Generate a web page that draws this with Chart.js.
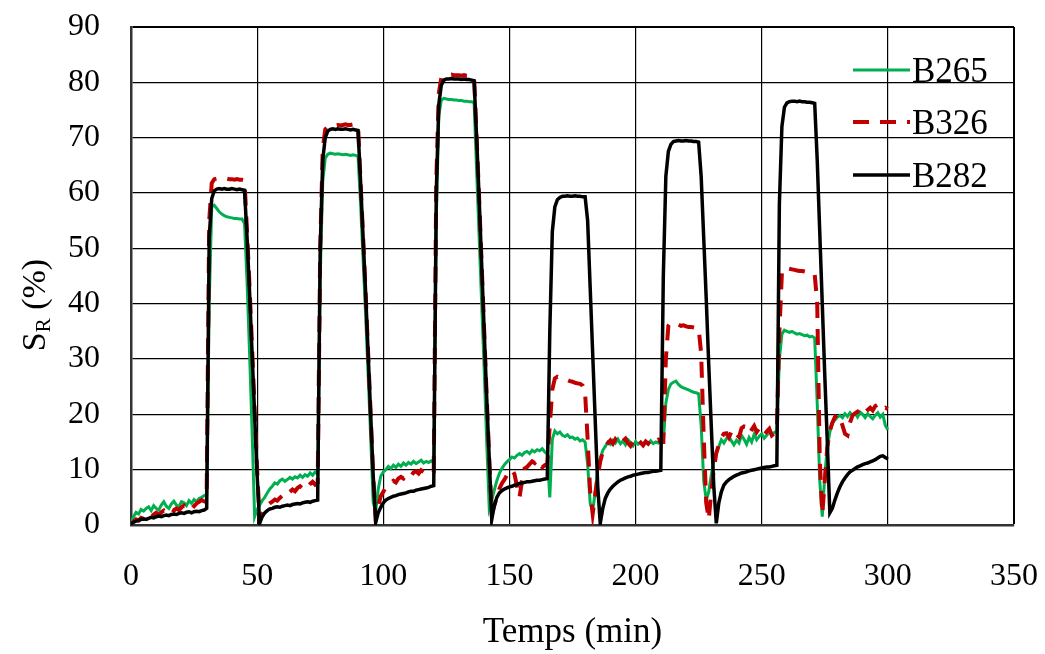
<!DOCTYPE html>
<html>
<head>
<meta charset="utf-8">
<script src="https://cdn.jsdelivr.net/npm/chart.js@4.4.1/dist/chart.umd.min.js"></script>
<style>
    body { margin: 0; background: #fff; }
    #wrap { width: 1045px; height: 654px; position: relative; }
</style>
</head>
<body>
<div id="wrap"><canvas id="chart_sr"></canvas></div>
<script>
// temps (min), one point per minute
var temps = [
    0, 1, 2, 3, 4, 5, 6, 7, 8, 9,
    10, 11, 12, 13, 14, 15, 16, 17, 18, 19,
    20, 21, 22, 23, 24, 25, 26, 27, 28, 29,
    30, 31, 32, 33, 34, 35, 36, 37, 38, 39,
    40, 41, 42, 43, 44, 45, 46, 47, 48, 49,
    50, 51, 52, 53, 54, 55, 56, 57, 58, 59,
    60, 61, 62, 63, 64, 65, 66, 67, 68, 69,
    70, 71, 72, 73, 74, 75, 76, 77, 78, 79,
    80, 81, 82, 83, 84, 85, 86, 87, 88, 89,
    90, 91, 92, 93, 94, 95, 96, 97, 98, 99,
    100, 101, 102, 103, 104, 105, 106, 107, 108, 109,
    110, 111, 112, 113, 114, 115, 116, 117, 118, 119,
    120, 121, 122, 123, 124, 125, 126, 127, 128, 129,
    130, 131, 132, 133, 134, 135, 136, 137, 138, 139,
    140, 141, 142, 143, 144, 145, 146, 147, 148, 149,
    150, 151, 152, 153, 154, 155, 156, 157, 158, 159,
    160, 161, 162, 163, 164, 165, 166, 167, 168, 169,
    170, 171, 172, 173, 174, 175, 176, 177, 178, 179,
    180, 181, 182, 183, 184, 185, 186, 187, 188, 189,
    190, 191, 192, 193, 194, 195, 196, 197, 198, 199,
    200, 201, 202, 203, 204, 205, 206, 207, 208, 209,
    210, 211, 212, 213, 214, 215, 216, 217, 218, 219,
    220, 221, 222, 223, 224, 225, 226, 227, 228, 229,
    230, 231, 232, 233, 234, 235, 236, 237, 238, 239,
    240, 241, 242, 243, 244, 245, 246, 247, 248, 249,
    250, 251, 252, 253, 254, 255, 256, 257, 258, 259,
    260, 261, 262, 263, 264, 265, 266, 267, 268, 269,
    270, 271, 272, 273, 274, 275, 276, 277, 278, 279,
    280, 281, 282, 283, 284, 285, 286, 287, 288, 289,
    290, 291, 292, 293, 294, 295, 296, 297, 298, 299,
    300
];

var sr_b265 = [
    0.5, 1.5, 2.3, 2.0, 2.8, 2.5, 3.0, 3.3, 2.6, 3.5,
    3.0, 2.7, 3.6, 4.2, 3.4, 3.0, 3.8, 4.3, 3.6, 3.3,
    4.2, 4.0, 3.5, 4.4, 3.9, 4.6, 4.2, 4.8, 5.0, 5.3,
    5.5, 40, 57.5, 57.8, 57.2, 56.6, 56.2, 55.9, 55.7, 55.6,
    55.5, 55.4, 55.4, 55.3, 55.3, 54.5, 44, 31, 17, 1.5,
    2.8, 3.6, 4.4, 5.0, 5.8, 6.5, 7.0, 7.6, 7.4, 8.0,
    8.3, 7.9, 8.2, 8.6, 8.3, 8.7, 8.5, 9.0, 8.6, 9.1,
    8.8, 9.4, 9.0, 9.6, 9.2, 45, 62, 66.3, 67.0, 67.2,
    67.1, 67.0, 67.1, 67.0, 66.9, 67.0, 66.9, 66.8, 66.9, 66.8,
    66.6, 58, 48, 38, 27, 16, 4, 2.5, 6.5, 8.8,
    9.6, 10.0, 10.6, 10.2, 10.8, 10.4, 11.0, 10.6, 11.2, 10.8,
    11.3, 11.0, 11.5, 11.1, 11.4, 11.7, 11.2, 11.5, 11.3, 11.6,
    11.2, 55, 74, 76.8, 77.1, 77.0, 76.9, 76.9, 76.8, 76.8,
    76.7, 76.7, 76.6, 76.6, 76.5, 76.5, 76.3, 64, 52, 40,
    28, 15, 3.0, 4.5, 6.3, 8.0, 9.3, 10.2, 10.9, 11.4,
    11.8, 12.3, 12.1, 12.6, 12.9, 12.6, 13.1, 13.3, 12.9, 13.5,
    13.2, 13.6, 13.4, 13.8, 13.2, 12.8, 5.0, 15.5, 17.0, 16.5,
    16.8, 16.2, 16.0, 16.3, 15.8, 15.9, 15.5, 15.7, 15.2, 15.4,
    15.0, 11, 4, 2.5, 6, 10, 12, 13.5, 14.2, 15.0,
    14.6, 15.3, 14.8, 15.5, 14.7, 15.2, 14.5, 15.4, 14.9, 14.3,
    15.1, 14.6, 15.0, 14.4, 14.9, 14.6, 15.2, 14.7, 15.0, 14.8,
    15.1, 15, 22, 24.5, 25.5, 25.8, 26.0, 25.4, 25.0, 24.8,
    24.6, 24.4, 24.2, 24.0, 23.9, 23.7, 18, 8, 4.5, 6,
    9, 11.5, 13.0, 14.2, 15.4, 14.8, 15.6, 16.0, 15.2, 14.5,
    15.3, 14.8, 16.2, 15.5, 14.6, 15.8, 15.0, 16.4, 15.4, 16.0,
    16.5, 15.7, 16.2, 16.8, 16.5, 16.7, 17.0, 30, 34.5, 35.2,
    35.0, 34.8, 35.0, 34.7, 34.5, 34.6, 34.4, 34.2, 34.3, 34.0,
    34.1, 33.8, 22, 8, 1.5, 9, 14, 16.8, 18.4, 19.0,
    19.5, 19.8, 19.4, 20.1, 19.6, 20.3, 19.8, 20.2, 19.5, 20.4,
    20.0, 19.4, 20.1, 19.6, 19.2, 19.8, 20.3, 19.5, 20.0, 18.0,
    17.2
];

var sr_b326 = [
    0.2, 0.6, 1.0, 0.8, 1.3, 1.1, 1.5, 1.8, 1.4, 1.9,
    2.2, 1.8, 2.3, 2.6, 2.1, 2.5, 2.9, 2.6, 3.0, 2.7,
    3.2, 3.5, 3.0, 3.4, 3.8, 3.4, 3.9, 4.2, 4.5, 4.3,
    6, 55, 61.8, 62.5, 62.6, 62.6, 62.5, 62.6, 62.6, 62.5,
    62.5, 62.4, 62.5, 62.4, 62.4, 62.3, 53, 43, 32, 21,
    10, 0.8, 2.0, 2.8, 3.5, 3.9, 4.2, 4.6, 4.4, 4.9,
    5.3, 5.0, 5.6, 6.0, 6.4, 6.1, 6.7, 7.0, 6.6, 7.2,
    6.9, 7.4, 7.8, 7.3, 7.6, 50, 68, 71.5, 72.0, 72.2,
    72.3, 72.2, 72.3, 72.2, 72.3, 72.4, 72.3, 72.3, 72.4, 72.3,
    72.2, 62, 52, 42, 31, 20, 9, 1.0, 3.5, 5.2,
    6.0, 6.8, 7.3, 7.6, 8.0, 7.7, 8.4, 8.7, 8.4, 9.0,
    9.2, 8.8, 9.5, 9.7, 9.3, 9.9, 9.6, 10.0, 9.7, 10.1,
    9.9, 62, 78, 80.8, 81.2, 81.3, 81.3, 81.4, 81.3, 81.3,
    81.3, 81.2, 81.3, 81.2, 81.2, 81.1, 81.0, 70, 59, 47,
    35, 23, 12, 2.0, 3.5, 5.0, 6.5, 7.5, 8.2, 9.0,
    9.6, 10.0, 9.2, 7.0, 5.0, 8.0, 10.2, 10.5, 11.0, 11.5,
    11.2, 11.8, 11.0, 10.4, 10.8, 11.0, 18, 24.5, 26.5, 26.8,
    26.6, 26.5, 26.3, 26.2, 26.0, 25.9, 25.7, 25.6, 25.5, 25.2,
    23.8, 15.5, 6.0, 2.0, 5.5, 8.8, 11.5, 13.2, 14.1, 14.8,
    15.3, 14.7, 15.5, 15.0, 14.5, 15.2, 15.6, 14.8, 14.3, 15.0,
    14.6, 15.4, 14.9, 14.4, 15.1, 14.7, 15.3, 14.8, 15.0, 15.4,
    15.0, 15, 30, 36.0, 36.6, 36.4, 36.3, 36.2, 36.0, 36.1,
    35.9, 35.8, 35.8, 35.7, 35.6, 35.5, 31, 16, 4, 1.0,
    6, 10, 13.0, 14.5, 15.8, 16.5, 16.6, 15.8, 16.9, 17.3,
    16.4, 15.9, 17.5, 17.8, 17.7, 16.6, 17.2, 17.9, 16.8, 17.5,
    17.1, 16.3, 16.9, 17.4, 16.2, 16.6, 17.0, 35, 45.5, 46.5,
    46.4, 46.3, 46.2, 46.1, 46.0, 45.9, 45.9, 45.8, 45.7, 45.6,
    45.5, 45.3, 40, 12, 2.0, 8.0, 14, 17, 18.5, 19.5,
    20.0, 19.4, 18.0, 16.5, 16.2, 18.5, 19.8, 20.2, 20.5, 20.0,
    20.6, 20.3, 20.8, 21.2, 20.7, 21.5, 21.8, 21.2, 20.9, 21.2,
    21.0
];

var sr_b282 = [
    0.2, 0.5, 0.7, 0.8, 1.0, 1.1, 1.0, 1.2, 1.4, 1.3,
    1.5, 1.6, 1.5, 1.7, 1.8, 1.7, 1.9, 2.0, 1.9, 2.1,
    2.2, 2.1, 2.3, 2.4, 2.2, 2.4, 2.5, 2.4, 2.6, 2.7,
    3.0, 52, 59, 60.4, 60.7, 60.8, 60.7, 60.8, 60.7, 60.7,
    60.8, 60.7, 60.6, 60.7, 60.6, 60.5, 52, 42, 31, 20,
    9, 0.3, 1.5, 2.2, 2.6, 2.9, 3.0, 3.2, 3.3, 3.2,
    3.4, 3.5, 3.6, 3.5, 3.7, 3.8, 3.9, 3.8, 4.0, 4.1,
    4.2, 4.1, 4.3, 4.4, 4.5, 50, 66, 70, 71.2, 71.5,
    71.6, 71.5, 71.6, 71.5, 71.5, 71.6, 71.5, 71.4, 71.5, 71.4,
    71.3, 62, 52, 42, 31, 20, 9, 0.5, 2.2, 3.2,
    4.0, 4.5, 4.8, 5.0, 5.2, 5.3, 5.5, 5.6, 5.7, 5.8,
    6.0, 6.1, 6.1, 6.3, 6.4, 6.5, 6.6, 6.7, 6.8, 7.0,
    7.1, 60, 76, 79.5, 80.4, 80.6, 80.6, 80.7, 80.6, 80.6,
    80.6, 80.5, 80.6, 80.5, 80.5, 80.4, 80.3, 70, 59, 47,
    35, 23, 12, 1.0, 3.5, 5.0, 5.8, 6.2, 6.5, 6.7,
    6.9, 7.0, 7.2, 7.3, 7.5, 7.6, 7.7, 7.8, 7.8, 7.9,
    8.0, 8.1, 8.1, 8.2, 8.3, 8.4, 35, 53, 57.5, 58.8,
    59.2, 59.4, 59.4, 59.5, 59.4, 59.4, 59.5, 59.4, 59.4, 59.3,
    59.3, 55, 43, 31, 19, 7, 0.3, 3.0, 4.8, 5.8,
    6.5, 7.0, 7.4, 7.8, 8.1, 8.3, 8.5, 8.7, 8.8, 9.0,
    9.1, 9.2, 9.3, 9.4, 9.5, 9.5, 9.6, 9.7, 9.7, 9.8,
    9.9, 45, 63, 67.5, 68.8, 69.3, 69.4, 69.5, 69.4, 69.4,
    69.5, 69.4, 69.4, 69.3, 69.3, 69.2, 63, 52, 41, 29,
    18, 7, 0.3, 4.0, 6.0, 7.2, 7.8, 8.2, 8.5, 8.8,
    9.0, 9.2, 9.4, 9.5, 9.6, 9.8, 9.9, 10.0, 10.1, 10.2,
    10.3, 10.4, 10.5, 10.5, 10.6, 10.7, 10.8, 58, 72, 75.5,
    76.3, 76.5, 76.6, 76.6, 76.5, 76.6, 76.5, 76.5, 76.4, 76.4,
    76.3, 76.2, 66, 53, 40, 27, 15, 2.2, 3.0, 4.5,
    5.8, 6.9, 7.8, 8.5, 9.1, 9.6, 9.9, 10.2, 10.5, 10.7,
    10.9, 11.1, 11.2, 11.4, 11.6, 11.8, 12.1, 12.4, 12.5, 12.2,
    11.9
];

var x_ticks = [0, 50, 100, 150, 200, 250, 300, 350];
var y_ticks = [0, 10, 20, 30, 40, 50, 60, 70, 80, 90];

var serie_names = ["B265", "B326", "B282"];
var color_linea = [
    "rgb(0, 176, 80)", //verde
    "rgb(192, 0, 0)", //rojo
    "rgb(0, 0, 0)", //negro
];

var fuente = "'Liberation Serif', 'Times New Roman', serif";

function puntos(vals) {
    return temps.map(function (t, i) {
        return { x: t, y: vals[i] };
    });
}

// y title with subscript R, and legend inside plot area
var extras = {
    id: "extras",
    afterDraw: function (chart) {
        var c = chart.ctx;
        c.save();
        c.fillStyle = "#000";
        c.textBaseline = "alphabetic";
        c.translate(45, 305);
        c.rotate(-Math.PI / 2);
        c.font = "34px " + fuente;
        var wS = c.measureText("S").width;
        var wP = c.measureText(" (%)").width;
        c.font = "21px " + fuente;
        var wR = c.measureText("R").width;
        var x0 = -(wS + wR + wP) / 2;
        c.font = "34px " + fuente;
        c.fillText("S", x0, 0);
        c.font = "21px " + fuente;
        c.fillText("R", x0 + wS, 5);
        c.font = "34px " + fuente;
        c.fillText(" (%)", x0 + wS + wR, 0);
        c.restore();

        c.save();
        var ys = [70, 122, 175];
        chart.data.datasets.forEach(function (ds, i) {
            c.beginPath();
            c.strokeStyle = ds.borderColor;
            c.lineWidth = ds.borderWidth;
            c.setLineDash(ds.borderDash || []);
            c.moveTo(853, ys[i]);
            c.lineTo(910, ys[i]);
            c.stroke();
            c.setLineDash([]);
            c.fillStyle = "#000";
            c.font = "35px " + fuente;
            c.textBaseline = "alphabetic";
            c.fillText(ds.label, 912, ys[i] + 12);
        });
        c.restore();
    },
};

var ctx_sr = document.getElementById("chart_sr");
var chart_sr = new Chart(ctx_sr, {
    type: "line",
    data: {
        datasets: [
            {
                label: serie_names[0],
                data: puntos(sr_b265),
                borderColor: color_linea[0],
                borderWidth: 3,
                order: 3,
            },
            {
                label: serie_names[1],
                data: puntos(sr_b326),
                borderColor: color_linea[1],
                borderWidth: 4,
                borderDash: [16, 11],
                order: 2,
            },
            {
                label: serie_names[2],
                data: puntos(sr_b282),
                borderColor: color_linea[2],
                borderWidth: 3.5,
                order: 1,
            },
        ],
    },
    options: {
        responsive: true,
        maintainAspectRatio: false,
        animation: false,
        elements: {
            point: { radius: 0 },
            line: { tension: 0, fill: false },
        },
        layout: {
            padding: { top: 27, right: 31, left: 0, bottom: 0 },
        },
        scales: {
            x: {
                type: "linear",
                min: 0,
                max: 350,
                afterFit: function (s) {
                    s.height = 129;
                    s.paddingLeft = 0;
                    s.paddingRight = 0;
                },
                afterBuildTicks: function (s) {
                    s.ticks = x_ticks.map(function (v) { return { value: v }; });
                },
                grid: {
                    color: "#000",
                    lineWidth: function (c) { return c.tick && c.tick.value === 350 ? 2 : 1.2; },
                    drawTicks: false,
                },
                border: { display: true, color: "#333", width: 2.5 },
                ticks: {
                    color: "#000",
                    padding: 32,
                    font: { family: fuente, size: 32 },
                },
                title: {
                    display: true,
                    text: "Temps (min)",
                    color: "#000",
                    font: { family: fuente, size: 35 },
                    padding: { top: 0, bottom: 0 },
                },
            },
            y: {
                min: 0,
                max: 90,
                afterFit: function (s) {
                    s.width = 131;
                    s.paddingTop = 0;
                    s.paddingBottom = 0;
                },
                afterBuildTicks: function (s) {
                    s.ticks = y_ticks.map(function (v) { return { value: v }; });
                },
                grid: {
                    color: "#000",
                    lineWidth: function (c) { return c.tick && c.tick.value === 90 ? 2 : 1.2; },
                    drawTicks: false,
                },
                border: { display: true, color: "#333", width: 2.5 },
                ticks: {
                    color: "#000",
                    padding: 31,
                    font: { family: fuente, size: 32 },
                },
            },
        },
        plugins: {
            legend: { display: false },
            tooltip: { enabled: false },
        },
    },
    plugins: [extras],
});
</script>
</body>
</html>
